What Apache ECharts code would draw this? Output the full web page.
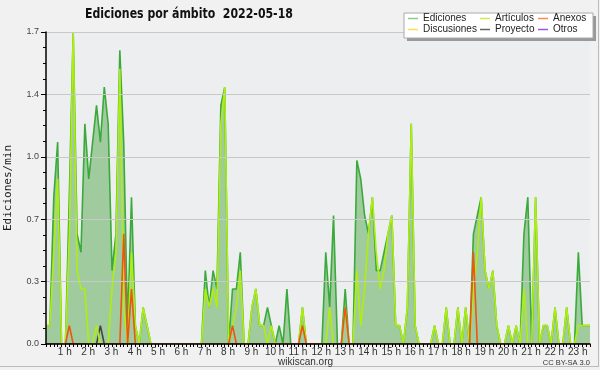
<!DOCTYPE html>
<html><head><meta charset="utf-8">
<script src="https://cdn.jsdelivr.net/npm/echarts@6/dist/echarts.min.js"></script>
<style>html,body{margin:0;padding:0;background:#f1f1f1}#c{width:600px;height:370px}</style>
</head><body><div id="c"></div>
<script>
// 10-minute buckets from 00:00 to 23:20, values in edits/min
const times = [];
for (let h = 0; h < 24; h++) for (let m = 0; m < 60; m += 10) times.push(h + ':' + (m < 10 ? '0' : '') + m);
const categories = times.slice(0, 141);

const ediciones = [0.1,0.1,0.8,1.1,0,0,0.8,1.7,0.6,0.5,
1.2,0.9,1.1,1.3,1.1,1.4,1.2,0.4,0.6,1.6,
1.1,0.1,0.8,0.1,0,0.2,0.1,0,0,0,
0,0,0,0,0,0,0,0,0,0,
0,0.4,0.2,0.4,0.3,1.3,1.4,0,0.3,0.3,
0.5,0,0,0.2,0.3,0.1,0.1,0.2,0.1,0,
0.1,0,0.3,0,0,0,0.2,0,0,0,
0,0,0.5,0.2,0.7,0,0,0.3,0,0,
1.0,0.9,0.7,0.6,0.8,0.4,0.4,0.5,0.6,0.7,
0.1,0.1,0,0.2,1.2,0.1,0,0,0,0,
0.1,0,0,0.2,0,0,0.2,0,0.2,0,
0.6,0.7,0.8,0.4,0.3,0.4,0.1,0,0,0.1,
0,0.1,0,0.6,0.8,0,0.8,0,0.1,0.1,
0,0.2,0,0,0.2,0,0,0.5,0.1,0.1,0.1];

const articulos = [0.1,0.1,0.5,0.9,0,0,0.6,1.7,0.4,0.3,
0.3,0,0,0.1,0,0,0,0.3,0.5,1.5,
0.2,0,0.5,0.1,0,0.2,0.1,0,0,0,
0,0,0,0,0,0,0,0,0,0,
0,0.3,0.2,0.3,0.2,1.2,1.4,0,0.1,0.2,
0.4,0,0,0.2,0.3,0.1,0.1,0,0.1,0,
0,0,0,0,0,0,0.2,0,0,0,
0,0,0,0.2,0,0,0,0.2,0,0,
0.4,0.1,0.3,0.6,0.8,0.5,0.3,0.4,0.6,0.7,
0.1,0.1,0,0.2,1.2,0.1,0,0,0,0,
0.1,0,0,0.2,0,0,0.2,0,0.2,0,
0.3,0.5,0.8,0.4,0.3,0.4,0.1,0,0,0.1,
0,0.1,0,0.3,0,0,0.8,0,0.1,0.1,
0,0.2,0,0,0.2,0,0,0.1,0.1,0.1,0.1];

const anexos = categories.map(() => 0);
[[6,0.1],[20,0.6],[22,0.3],[48,0.1],[66,0.1],[77,0.2],[110,0.5]].forEach(p => anexos[p[0]] = p[1]);
const proyecto = categories.map(() => 0);
proyecto[14] = 0.1;
const discusiones = categories.map(() => 0);
const otros = categories.map(() => 0);

const chart = echarts.init(document.getElementById('c'), null, {renderer: 'canvas'});
const font = 'Liberation Sans, DejaVu Sans, sans-serif';
function line(name, data, color, z, extra) {
  return Object.assign({
    name, type: 'line', data, symbol: 'none', z,
    lineStyle: {color, width: 1.6}, itemStyle: {color}
  }, extra || {});
}
chart.setOption({
  animation: false,
  backgroundColor: '#f1f1f1',
  grid: {left: 46, right: 10, top: 32, bottom: 26, show: true, backgroundColor: '#edeef0', borderWidth: 0,
         containLabel: false, outerBoundsMode: 'none'},
  graphic: [
    {type: 'text', x: 85, y: 14, scaleX: 0.87, z: 20,
     style: {text: 'Ediciones por ámbito  2022-05-18', font: 'bold 14px DejaVu Sans Condensed, Liberation Sans Narrow, Liberation Sans, sans-serif',
             fill: '#111', verticalAlign: 'middle'}},
    {type: 'rect', shape: {x: 407, y: 16, width: 189, height: 25}, style: {fill: '#999'}, z: 10},
    {type: 'rect', shape: {x: 404, y: 13, width: 189, height: 25}, style: {fill: '#fff', stroke: '#aaa', lineWidth: 1}, z: 11},
    {type: 'text', left: 278, top: 357, style: {text: 'wikiscan.org', font: '10px ' + font, fill: '#333'}, z: 20},
    {type: 'text', right: 10, top: 359, style: {text: 'CC BY-SA 3.0', font: '7.5px ' + font, fill: '#333'}, z: 20},
    {type: 'line', shape: {x1: 598.5, y1: 0, x2: 598.5, y2: 366}, style: {stroke: '#bbb', lineWidth: 1}},
    {type: 'line', shape: {x1: 0, y1: 366.5, x2: 599, y2: 366.5}, style: {stroke: '#bbb', lineWidth: 1}}
  ],
  legend: [
    {data: [{name: 'Ediciones', itemStyle: {color: '#88cc88'}}, {name: 'Discusiones', itemStyle: {color: '#ffdd55'}}], left: 408, top: 13, orient: 'vertical'},
    {data: [{name: 'Artículos', itemStyle: {color: '#ccee55'}}, {name: 'Proyecto', itemStyle: {color: '#666'}}], left: 480, top: 13, orient: 'vertical'},
    {data: [{name: 'Anexos', itemStyle: {color: '#ff8855'}}, {name: 'Otros', itemStyle: {color: '#9955ee'}}], left: 538, top: 13, orient: 'vertical'}
  ].map(l => Object.assign(l, {icon: 'rect', itemWidth: 10, itemHeight: 1.5, itemGap: 0, padding: 0, z: 12,
      textStyle: {fontFamily: font, fontSize: 10, color: '#222', lineHeight: 11, padding: [0, 0, 0, 0]}})),
  xAxis: {
    type: 'category', data: categories, boundaryGap: false, z: 5,
    axisLine: {lineStyle: {color: '#000', width: 1.5}},
    axisTick: {show: true, interval: 0, length: 3, lineStyle: {color: '#000'}},
    axisLabel: {
      interval: (i) => i % 6 === 0 && i > 0,
      formatter: (v, i) => (i / 6) + ' h',
      fontFamily: font, fontSize: 10, color: '#333', margin: 3, padding: [0, 9, 0, 0]
    },
    splitLine: {show: false}
  },
  yAxis: {
    type: 'value', min: 0, max: 1.7, interval: 0.34, z: 5,
    name: 'Ediciones/min', nameLocation: 'middle', nameGap: 32, nameRotate: 90,
    nameTextStyle: {fontFamily: 'DejaVu Sans Mono, monospace', fontSize: 11, color: '#222'},
    axisLine: {show: true, lineStyle: {color: '#000', width: 1.5}},
    axisTick: {show: true, length: 5, lineStyle: {color: '#000'}},
    minorTick: {show: true, splitNumber: 4, length: 3, lineStyle: {color: '#000'}},
    axisLabel: {formatter: v => v.toFixed(1), fontFamily: font, fontSize: 9, color: '#444', margin: 7},
    splitLine: {lineStyle: {color: '#c8c8c8', width: 1}}
  },
  series: [
    line('Ediciones', ediciones, '#3aaa3a', 2, {areaStyle: {color: '#9fcb9f', opacity: 1}}),
    line('Discusiones', discusiones, '#ffdd33', 1),
    line('Otros', otros, '#8844ee', 1),
    line('Proyecto', proyecto, '#444444', 3),
    line('Artículos', articulos, '#b0ee10', 3),
    line('Anexos', anexos, '#ee5511', 4)
  ]
});
</script></body></html>
